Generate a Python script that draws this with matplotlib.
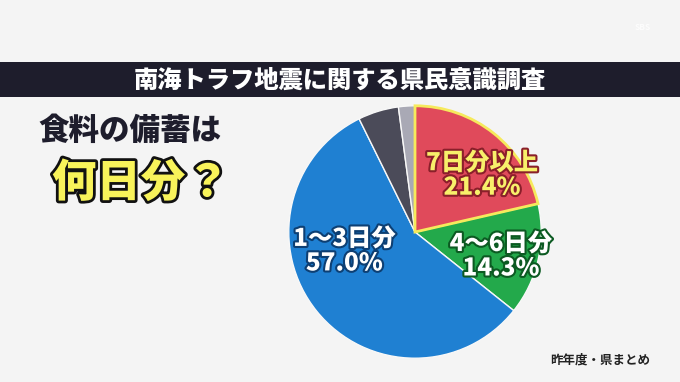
import matplotlib.pyplot as plt
import matplotlib.patheffects as pe

plt.rcParams['font.family'] = ['Noto Sans CJK JP', 'DejaVu Sans']

# 食料の備蓄（何日分？）
categories = ['7日分以上', '4〜6日分', '1〜3日分', 'その他', '無回答']
values = [21.4, 14.3, 57.0, 5.2, 2.1]
colors = ['#e04a5b', '#23a94b', '#1f80d2', '#4b4b59', '#a9a9b5']
label_pos = [(0.53, 0.45), (0.68, -0.19), (-0.56, -0.15)]   # 表示位置（pie座標）
label_color = ['#f8f06a', 'white', 'white']
stroke_color = ['#8a1f2a', '#0c5a22', '#0d3f73']

fig = plt.figure(figsize=(6.8, 3.82), dpi=100)
fig.patch.set_facecolor('#f4f4f4')

# タイトル帯
fig.patches.append(plt.Rectangle((0, 1 - 97 / 382), 1, 35 / 382, transform=fig.transFigure,
                                 facecolor='#1e1d2c', edgecolor='none', zorder=0))
fig.text(0.5, 1 - 80 / 382, '南海トラフ地震に関する県民意識調査', color='white',
         fontsize=17.5, fontweight='black', ha='center', va='center')

fig.text(0.945, 1 - 28 / 382, 'SBS', color='white', alpha=0.8, fontsize=6,
         fontweight='bold', ha='center', va='center')

fig.text(130 / 680, 1 - 130 / 382, '食料の備蓄は', color='#1e1d2c', fontsize=22,
         fontweight='black', ha='center', va='center')
fig.text(141 / 680, 1 - 183 / 382, '何日分？', color='#f8f35a', fontsize=32,
         fontweight='black', ha='center', va='center',
         path_effects=[pe.withStroke(linewidth=4, foreground='#111111')])

fig.text(600 / 680, 1 - 360 / 382, '昨年度・県まとめ', color='#222222', fontsize=9,
         fontweight='bold', ha='center', va='center')

# 円グラフ
ax = fig.add_axes([(415 - 130) / 680, (382 - 232 - 130) / 382, 260 / 680, 260 / 382])
wedges, _ = ax.pie(values, colors=colors, startangle=90, counterclock=False,
                   wedgeprops=dict(edgecolor='#f8f8f8', linewidth=1.0))
wedges[0].set_edgecolor('#f6ea5c')
wedges[0].set_linewidth(2.0)
wedges[0].set_zorder(3)
ax.set_xlim(-1.03, 1.03)
ax.set_ylim(-1.03, 1.03)
ax.axis('off')

for i in range(3):
    x, y = label_pos[i]
    ax.text(x, y, f'{categories[i]}\n{values[i]:.1f}%', color=label_color[i],
            fontsize=17.5, fontweight='black', ha='center', va='center', linespacing=1.0,
            zorder=5, path_effects=[pe.withStroke(linewidth=3, foreground=stroke_color[i])])

fig.savefig('out.png', dpi=100, facecolor=fig.get_facecolor())
